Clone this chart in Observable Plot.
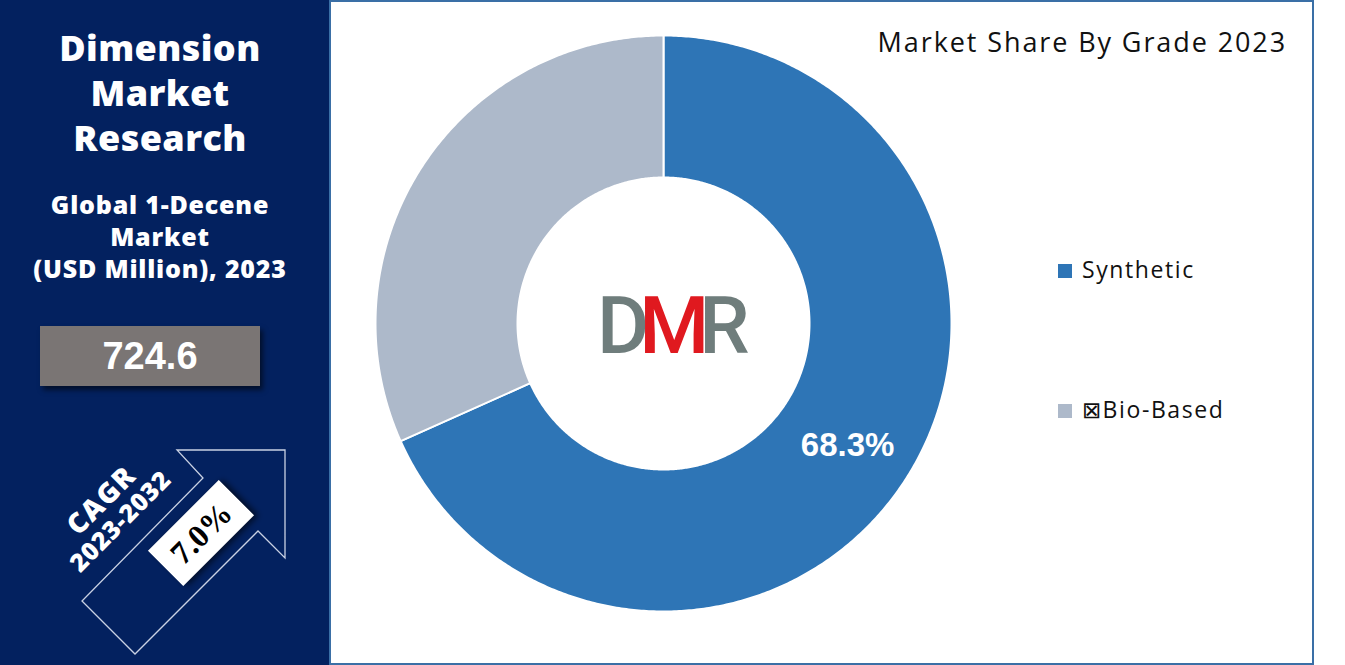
<!DOCTYPE html>
<html><head><meta charset="utf-8">
<script src="https://cdn.jsdelivr.net/npm/d3@7"></script>
<script src="https://cdn.jsdelivr.net/npm/@observablehq/plot@0.6"></script>
<style>
html,body{margin:0;padding:0}
body{width:1345px;height:665px;position:relative;overflow:hidden;background:#fff;font-family:"Open Sans",sans-serif}
#left{position:absolute;left:0;top:0;width:329px;height:665px;background:#03215f;color:#fff}
.brand{position:absolute;left:0;width:320px;text-align:center;font-family:"Open Sans",sans-serif;font-weight:800;font-size:36px;height:45px;line-height:45px;letter-spacing:0.4px;white-space:nowrap}
.sub{position:absolute;left:0;width:320px;text-align:center;font-family:"Open Sans",sans-serif;font-weight:800;font-size:25px;height:32px;line-height:32px;letter-spacing:0.8px;white-space:nowrap}
#valbox{position:absolute;left:40px;top:326px;width:220px;height:60px;background:#7a7574;box-shadow:3px 4px 5px rgba(0,0,0,0.55);color:#fff;font-family:"Liberation Sans",Arial,sans-serif;font-weight:bold;font-size:38px;line-height:60px;text-align:center}
#frame{position:absolute;left:329px;top:0;width:981px;height:661px;border:2px solid #3a6fa6}
#title{position:absolute;right:58px;top:23px;font-family:"Open Sans",sans-serif;font-size:27px;color:#111;letter-spacing:1.9px;white-space:nowrap}
#chart{position:absolute;left:363px;top:23px}
#legend{position:absolute;left:1058px;top:0}
.li{position:absolute;left:0;white-space:nowrap;font-family:"Open Sans",sans-serif;font-size:23px;letter-spacing:1.6px;color:#111}
.li span.sw{display:inline-block;width:14px;height:14px;margin-right:10px;vertical-align:0px}
#logo{position:absolute;left:597px;top:281px;font-family:Roboto,"Liberation Sans",sans-serif;font-weight:500;font-size:80px;line-height:90px;letter-spacing:-10px}
</style></head><body>
<div id="left">
  <div class="brand" style="top:25px">Dimension</div>
  <div class="brand" style="top:70px">Market</div>
  <div class="brand" style="top:115px">Research</div>
  <div class="sub" style="top:188px">Global 1-Decene</div>
  <div class="sub" style="top:220px">Market</div>
  <div class="sub" style="top:252px">(USD Million), 2023</div>
  <div id="valbox"></div>
  <svg width="329" height="665" style="position:absolute;left:0;top:0">
    <polygon points="82,601 135,654 258,531 285,558 285,450 177,450 203,478" fill="none" stroke="#c9d1e3" stroke-width="1.3"/>
    <g transform="translate(201,533) rotate(-45)">
      <rect x="-50" y="-25" width="100" height="50" fill="#fff" style="filter:drop-shadow(3px 3px 3px rgba(0,0,0,0.6))"/>
      <text id="cagrval" x="0" y="11" text-anchor="middle" font-family="Liberation Serif,serif" font-weight="bold" font-size="32" fill="#000"></text>
    </g>
    <g transform="translate(101,500) rotate(-45)">
      <text id="cagrlbl" x="0" y="10" text-anchor="middle" font-family="Open Sans,sans-serif" font-weight="800" font-size="28" letter-spacing="1.5" fill="#fff"></text>
    </g>
    <g transform="translate(120,521) rotate(-45)">
      <text id="cagrper" x="0" y="9" text-anchor="middle" font-family="Open Sans,sans-serif" font-weight="800" font-size="25" letter-spacing="0.6" fill="#fff"></text>
    </g>
  </svg>
</div>
<div id="frame"></div>
<div id="title"></div>
<div id="chart"></div>
<div id="logo"><span style="color:#6f7d7c">D</span><span style="color:#e0191f">M</span><span style="color:#6f7d7c">R</span></div>
<div id="legend"></div>
<script>
// ---- data ----
const grades = ["Synthetic", "Bio-Based"];
const legendLabels = ["Synthetic", "\u22A0Bio-Based"];
const shares = [68.3, 31.7];
const colors = ["#2e75b6", "#adb9ca"];
const chartTitle = "Market Share By Grade 2023";
const marketValue = "724.6";
const cagr = "7.0%";
const cagrPeriod = "2023-2032";

document.getElementById("title").textContent = chartTitle;
document.getElementById("valbox").textContent = marketValue;
document.getElementById("cagrval").textContent = cagr;
document.getElementById("cagrlbl").textContent = "CAGR";
document.getElementById("cagrper").textContent = cagrPeriod;

// ---- donut geometry (unit coords, angle clockwise from top) ----
const outerR = 1, innerR = 146 / 288;
const pie = d3.pie().sort(null).value(d => d.share);
const arcs = pie(grades.map((g, i) => ({name: g, share: shares[i]})));
function ring(a0, a1) {
  const n = Math.max(2, Math.ceil((a1 - a0) / (Math.PI / 360)));
  const pts = [];
  for (let k = 0; k <= n; k++) { const a = a0 + (a1 - a0) * k / n; pts.push({x: outerR * Math.sin(a), y: outerR * Math.cos(a)}); }
  for (let k = n; k >= 0; k--) { const a = a0 + (a1 - a0) * k / n; pts.push({x: innerR * Math.sin(a), y: innerR * Math.cos(a)}); }
  return pts;
}
const midR = (outerR + innerR) / 2;
const labels = [arcs[0]].map(a => {
  const m = (a.startAngle + a.endAngle) / 2;
  return {x: midR * Math.sin(m), y: midR * Math.cos(m), text: a.data.share.toFixed(1) + "%"};
});

const size = 600, m = 12;
const plot = Plot.plot({
  width: size, height: size,
  margin: m,
  x: {domain: [-1, 1], axis: null},
  y: {domain: [-1, 1], axis: null},
  marks: [
    ...arcs.map((a, i) => Plot.line(ring(a.startAngle, a.endAngle), {
      x: "x", y: "y", curve: "linear-closed",
      fill: colors[i], stroke: "#fff", strokeWidth: 2
    })),
    Plot.text(labels, {x: "x", y: "y", text: "text", fill: "#fff", fontSize: 33, fontWeight: "bold",
      fontFamily: "Liberation Sans, Arial, sans-serif", dx: 2, dy: 4})
  ]
});
document.getElementById("chart").appendChild(plot);

// ---- legend ----
const legendTops = [253, 393];
const lg = document.getElementById("legend");
grades.forEach((g, i) => {
  const d = document.createElement("div");
  d.className = "li";
  d.style.top = legendTops[i] + "px";
  d.innerHTML = `<span class="sw" style="background:${colors[i]}"></span>`;
  d.appendChild(document.createTextNode(legendLabels[i]));
  lg.appendChild(d);
});
</script>
</body></html>
